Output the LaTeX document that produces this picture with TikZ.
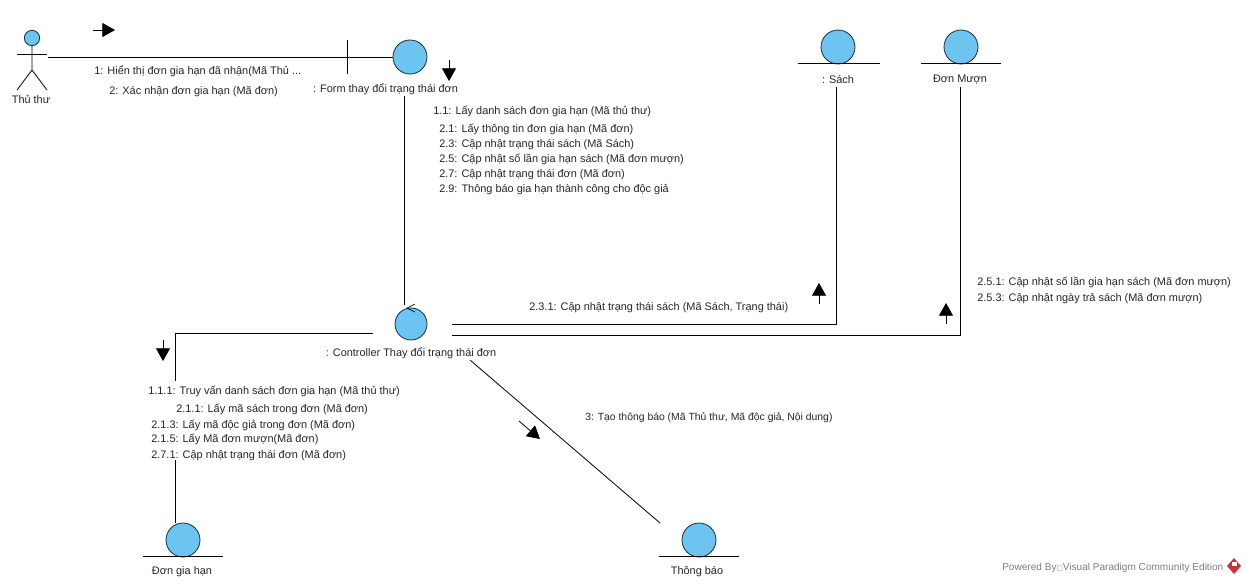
\documentclass[tikz,border=0pt]{standalone}
\usepackage{fontspec}
\setmainfont{Liberation Sans}
\newfontfamily\boxfont{DejaVu Sans}
\usetikzlibrary{arrows.meta}
\definecolor{bubble}{RGB}{110,196,240}
\definecolor{bubbleline}{RGB}{20,45,60}
\definecolor{footgray}{RGB}{125,125,125}
\definecolor{logored}{RGB}{200,50,60}
\tikzset{
  bubblenode/.style={circle,draw=bubbleline,fill=bubble,line width=0.6pt,inner sep=0pt,minimum size=25.5pt},
  msgtext/.style={anchor=west,inner sep=0pt,yshift=-1.1pt,font=\fontsize{8.2}{9.5}\selectfont,text=black!85},
  nametext/.style={fill=white,inner sep=1pt,yshift=-0.8pt,font=\fontsize{8.2}{9.5}\selectfont,text=black!85},
  link/.style={line width=0.6pt,black},
  msgarrow/.style={-{Triangle[length=9.5pt,width=10.5pt]},line width=0.6pt,black},
}
\begin{document}
\begin{tikzpicture}[x=0.75pt,y=-0.75pt]
\useasboundingbox (0,0) rectangle (1246,583);
\coordinate (actorhand) at (48,57);
\coordinate (formfoot) at (404.5,95);
\coordinate (ctrltop) at (404.5,305);
\coordinate (ctrlleft) at (373,333);
\coordinate (ctrlright1) at (452,324);
\coordinate (ctrlright2) at (452,335);
\coordinate (ctrlfoot) at (470,360);
\coordinate (sachfoot) at (836.5,87);
\coordinate (muonfoot) at (960.5,87);
\coordinate (giahanhead) at (175.5,523);
\coordinate (tbhead) at (660,523);

% connectors first, the labels sit on top of them
\draw[link] (actorhand) -- (393,57);
\draw[link] (formfoot) -- (ctrltop);
\draw[link] (ctrlleft) -| (giahanhead);
\draw[link] (ctrlright1) -| (sachfoot);
\draw[link] (ctrlright2) -| (muonfoot);
\draw[link] (ctrlfoot) -- (tbhead);

% actor
\node[circle,draw=bubbleline,fill=bubble,line width=0.6pt,inner sep=0pt,minimum size=11.5pt] (actor) at (32,38) {};
\draw[link] (actor.south) -- (32,70) -- (17,90);
\draw[link] (32,70) -- (47,90);
\draw[link] (17,54) -- (47,54);
\node[nametext] (actorname) at (31,98) {Thủ thư};

% boundary
\node[bubblenode] (form) at (410,57) {};
\draw[link] (347,40) -- (347,74);
\node[nametext] (formname) at (385.5,88) {: Form thay đổi trạng thái đơn};

% control
\node[bubblenode,minimum size=24pt] (ctrl) at (411,324) {};
\draw[line width=0.5pt,black] (415,304) -- (407,308) -- (415,312);
\node[nametext] (ctrlname) at (411,352) {: Controller Thay đổi trạng thái đơn};

% entities
\node[bubblenode] (sach) at (838,47) {};
\draw[link] (798,63) -- (880,63);
\node[nametext] (sachname) at (838,78) {: Sách};
\node[bubblenode] (muon) at (961,47) {};
\draw[link] (921,63) -- (1001,63);
\node[nametext] (muonname) at (960,78) {Đơn Mượn};
\node[bubblenode] (giahan) at (183,540) {};
\draw[link] (143,556) -- (223,556);
\node[nametext] (giahanname) at (182,571) {Đơn gia hạn};
\node[bubblenode] (tb) at (699,540) {};
\draw[link] (659,556) -- (739,556);
\node[nametext] (tbname) at (697,571) {Thông báo};

% direction arrows
\draw[msgarrow] (93,30) -- (115,30);
\draw[msgarrow] (449,60) -- (449,81);
\draw[msgarrow] (163,340) -- (163,361);
\draw[msgarrow] (819,304) -- (819,283);
\draw[msgarrow] (946,324) -- (946,303);
\draw[msgarrow] (519,421) -- (540,439);

% white behind the labels that cut the line
\fill[white] (140,381) rectangle (400,460);

\node[msgtext] (m1) at (94,70) {1: Hiển thị đơn gia hạn đã nhận(Mã Thủ ...};
\node[msgtext] (m2) at (109,90) {2: Xác nhận đơn gia hạn (Mã đơn)};
\node[msgtext] (m11) at (433,110) {1.1: Lấy danh sách đơn gia hạn (Mã thủ thư)};
\node[msgtext] (m21) at (439,128) {2.1: Lấy thông tin đơn gia hạn (Mã đơn)};
\node[msgtext] (m23) at (439,143) {2.3: Cập nhật trạng thái sách (Mã Sách)};
\node[msgtext] (m25) at (439,158) {2.5: Cập nhật số lần gia hạn sách (Mã đơn mượn)};
\node[msgtext] (m27) at (439,173) {2.7: Cập nhật trạng thái đơn (Mã đơn)};
\node[msgtext] (m29) at (439,188) {2.9: Thông báo gia hạn thành công cho độc giả};
\node[msgtext] (m231) at (529,306) {2.3.1: Cập nhật trạng thái sách (Mã Sách, Trạng thái)};
\node[msgtext] (m251) at (977,281) {2.5.1: Cập nhật số lần gia hạn sách (Mã đơn mượn)};
\node[msgtext] (m253) at (977,297) {2.5.3: Cập nhật ngày trả sách (Mã đơn mượn)};
\node[msgtext,font=\fontsize{7.8}{9.5}\selectfont] (m3) at (585,416) {3: Tạo thông báo (Mã Thủ thư, Mã độc giả, Nội dung)};
\node[msgtext] (m111) at (148,390) {1.1.1: Truy vấn danh sách đơn gia hạn (Mã thủ thư)};
\node[msgtext] (m211) at (176,408) {2.1.1: Lấy mã sách trong đơn (Mã đơn)};
\node[msgtext] (m213) at (151,424) {2.1.3: Lấy mã độc giả trong đơn (Mã đơn)};
\node[msgtext] (m215) at (151,438) {2.1.5: Lấy Mã đơn mượn(Mã đơn)};
\node[msgtext] (m271) at (151,454) {2.7.1: Cập nhật trạng thái đơn (Mã đơn)};

% footer
\node[msgtext,text=footgray,font=\fontsize{7.55}{9}\selectfont] (powered) at (1002,566) {Powered By{\boxfont\fontsize{5}{6}\selectfont □}Visual Paradigm Community Edition};
\fill[logored] (1234,558) -- (1241,566) -- (1234,574) -- (1227,566) -- cycle;
\fill[white] (1232,562) -- (1236.5,562) -- (1236.5,566) -- (1232,566) -- cycle;
\end{tikzpicture}
\end{document}
